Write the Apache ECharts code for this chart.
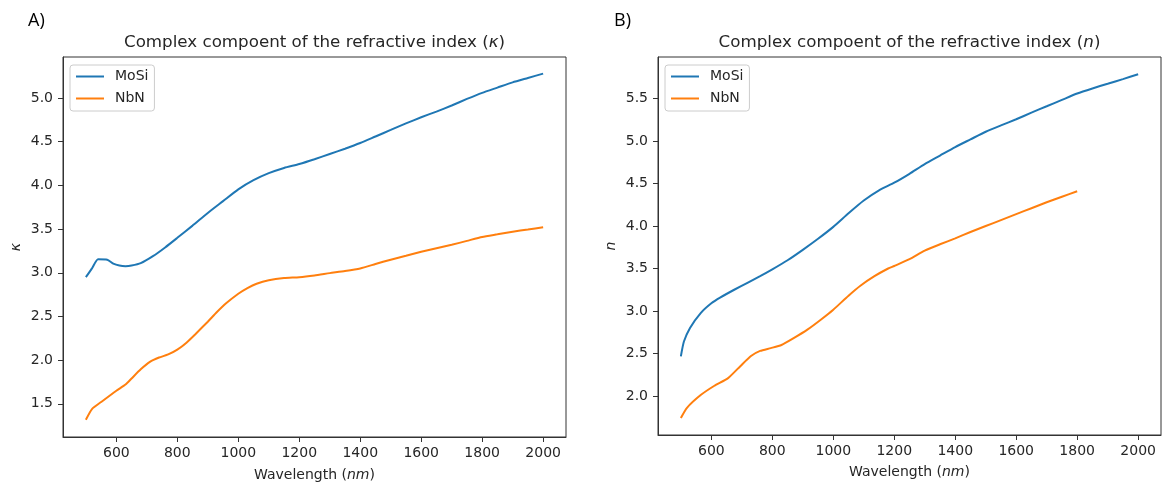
<!DOCTYPE html>
<html><head><meta charset="utf-8">
<script src="https://cdn.jsdelivr.net/npm/echarts@6/dist/echarts.min.js"></script>
<style>html,body{margin:0;padding:0;background:#fff}#c{width:1166px;height:489px}</style>
</head><body><div id="c"></div>
<script>
// ---- Data ----
const seriesNames = ['MoSi', 'NbN'];

// Panel A: extinction coefficient kappa
const kMoSiWl  = [500,520,540,570,590,610,630,650,680,720,760,800,850,900,950,1000,1050,1100,1150,1200,1250,1300,1350,1400,1450,1500,1550,1600,1650,1700,1750,1800,1850,1900,1950,2000];
const kMoSiVal = [2.95,3.05,3.155,3.15,3.105,3.083,3.076,3.083,3.11,3.19,3.29,3.40,3.54,3.685,3.82,3.955,4.06,4.14,4.20,4.245,4.30,4.36,4.42,4.485,4.56,4.635,4.71,4.78,4.845,4.915,4.99,5.06,5.12,5.18,5.23,5.28];
const kNbNWl   = [500,520,550,600,630,650,680,710,740,770,800,830,860,900,930,960,1000,1030,1060,1100,1150,1200,1250,1300,1350,1400,1450,1500,1550,1600,1650,1700,1750,1800,1850,1900,1950,2000];
const kNbNVal  = [1.317,1.44,1.52,1.65,1.72,1.79,1.895,1.98,2.03,2.065,2.12,2.20,2.30,2.44,2.55,2.65,2.76,2.825,2.875,2.915,2.94,2.95,2.97,2.996,3.02,3.05,3.10,3.15,3.195,3.24,3.28,3.32,3.365,3.41,3.44,3.47,3.495,3.52];

// Panel B: refractive index n
const nMoSiWl  = [500,510,530,565,600,630,675,720,760,800,850,900,950,1000,1050,1100,1150,1200,1250,1300,1350,1400,1450,1500,1550,1600,1650,1700,1750,1800,1850,1900,1950,2000];
const nMoSiVal = [2.466,2.64,2.80,2.975,3.09,3.16,3.25,3.335,3.41,3.49,3.597,3.72,3.85,3.99,4.15,4.30,4.42,4.51,4.615,4.73,4.83,4.93,5.02,5.11,5.185,5.257,5.335,5.41,5.485,5.56,5.62,5.675,5.73,5.786];
const nNbNWl   = [500,520,565,610,655,695,730,760,795,830,870,915,960,1000,1050,1090,1135,1180,1200,1250,1300,1350,1400,1450,1500,1550,1600,1650,1700,1750,1800];
const nNbNVal  = [1.74,1.86,2.01,2.12,2.21,2.35,2.47,2.53,2.563,2.60,2.68,2.78,2.90,3.015,3.18,3.30,3.41,3.50,3.53,3.61,3.71,3.785,3.855,3.93,4.00,4.07,4.14,4.21,4.28,4.345,4.41];

// Tick labels
const xTicks = [600,800,1000,1200,1400,1600,1800,2000];
const kTicks = [1.5,2.0,2.5,3.0,3.5,4.0,4.5,5.0];
const nTicks = [2.0,2.5,3.0,3.5,4.0,4.5,5.0,5.5];

// ---- Styling ----
const FONT = 'DejaVu Sans';
const FS = 14;
const TFS = 16.7;
const TXT = '#262626';
const FRAME = '#333333';
const colors = ['#1f77b4', '#ff7f0e'];

function zip(a, b) { return a.map((v, i) => [v, b[i]]); }

function xAxisOpt(gi, gap) {
  return {
    type: 'value', gridIndex: gi, min: 425, max: 2075,
    name: 'Wavelength ({i|nm})', nameLocation: 'middle', nameGap: gap,
    nameTextStyle: { fontFamily: FONT, fontSize: FS, color: TXT,
      rich: { i: { fontFamily: FONT, fontSize: FS, color: TXT, fontStyle: 'italic' } } },
    axisLine: { show: true, onZero: false, lineStyle: { color: FRAME, width: 1 } },
    axisTick: { show: true, inside: false, length: 5, customValues: xTicks, lineStyle: { color: FRAME, width: 1 } },
    axisLabel: { customValues: xTicks, margin: 9, fontFamily: FONT, fontSize: FS, color: TXT,
      formatter: v => String(v) },
    splitLine: { show: false }
  };
}
function yAxisOpt(gi, min, max, ticks, sym) {
  return {
    type: 'value', gridIndex: gi, min: min, max: max,
    name: '{i|' + sym + '}', nameLocation: 'middle', nameGap: 40, nameRotate: 90,
    nameTextStyle: { fontFamily: FONT, fontSize: FS, color: TXT,
      rich: { i: { fontFamily: FONT, fontSize: FS, color: TXT, fontStyle: 'italic' } } },
    axisLine: { show: true, onZero: false, lineStyle: { color: FRAME, width: 1 } },
    axisTick: { show: true, inside: false, length: 5, customValues: ticks, lineStyle: { color: FRAME, width: 1 } },
    axisLabel: { customValues: ticks, margin: 10, fontFamily: FONT, fontSize: FS, color: TXT,
      formatter: v => v.toFixed(1) },
    splitLine: { show: false }
  };
}
function legendOpt(left) {
  return {
    left: left, top: 65, orient: 'vertical', data: seriesNames,
    icon: 'rect', itemWidth: 28, itemHeight: 2, itemGap: 7,
    padding: [4, 6, 5, 6], backgroundColor: 'rgba(255,255,255,0.8)',
    borderColor: '#cccccc', borderWidth: 1, borderRadius: 3, selectedMode: false,
    textStyle: { fontFamily: FONT, fontSize: FS, color: TXT, lineHeight: 15, padding: [0, 0, 0, 6] }
  };
}
function lineSeries(name, gi, wl, val, color) {
  return {
    type: 'line', name: name, xAxisIndex: gi, yAxisIndex: gi,
    data: zip(wl, val), symbol: 'none', showSymbol: false,
    smooth: 0.2,
    lineStyle: { width: 2, color: color }, itemStyle: { color: color }, z: 3
  };
}

const chart = echarts.init(document.getElementById('c'), null, { renderer: 'canvas' });
chart.setOption({
  animation: false,
  backgroundColor: '#ffffff',
  grid: [
    { left: 63, top: 57, width: 503, height: 380, show: true, borderColor: FRAME, borderWidth: 1, backgroundColor: 'transparent' },
    { left: 658, top: 57, width: 503, height: 378, show: true, borderColor: FRAME, borderWidth: 1, backgroundColor: 'transparent' }
  ],
  xAxis: [xAxisOpt(0, 31), xAxisOpt(1, 30)],
  yAxis: [yAxisOpt(0, 1.12, 5.47, kTicks, 'κ'), yAxisOpt(1, 1.54, 5.99, nTicks, 'n')],
  legend: [legendOpt(70), legendOpt(665)],
  series: [
    lineSeries(seriesNames[0], 0, kMoSiWl, kMoSiVal, colors[0]),
    lineSeries(seriesNames[1], 0, kNbNWl, kNbNVal, colors[1]),
    lineSeries(seriesNames[0], 1, nMoSiWl, nMoSiVal, colors[0]),
    lineSeries(seriesNames[1], 1, nNbNWl, nNbNVal, colors[1])
  ],
  graphic: [
    { type: 'text', style: { text: 'A)', x: 28, y: 21, align: 'left', verticalAlign: 'middle', fontFamily: 'Open Sans', fontSize: 18, fill: '#000' } },
    { type: 'text', style: { text: 'B)', x: 614, y: 21, align: 'left', verticalAlign: 'middle', fontFamily: 'Open Sans', fontSize: 18, fill: '#000' } },
    { type: 'text', style: { text: 'Complex compoent of the refractive index ({i|κ})', x: 314.5, y: 43, align: 'center', verticalAlign: 'middle',
        fontFamily: FONT, fontSize: TFS, fill: TXT, rich: { i: { fontFamily: FONT, fontSize: TFS, fill: TXT, fontStyle: 'italic' } } } },
    { type: 'text', style: { text: 'Complex compoent of the refractive index ({i|n})', x: 909.5, y: 43, align: 'center', verticalAlign: 'middle',
        fontFamily: FONT, fontSize: TFS, fill: TXT, rich: { i: { fontFamily: FONT, fontSize: TFS, fill: TXT, fontStyle: 'italic' } } } }
  ]
});
</script>
</body></html>
